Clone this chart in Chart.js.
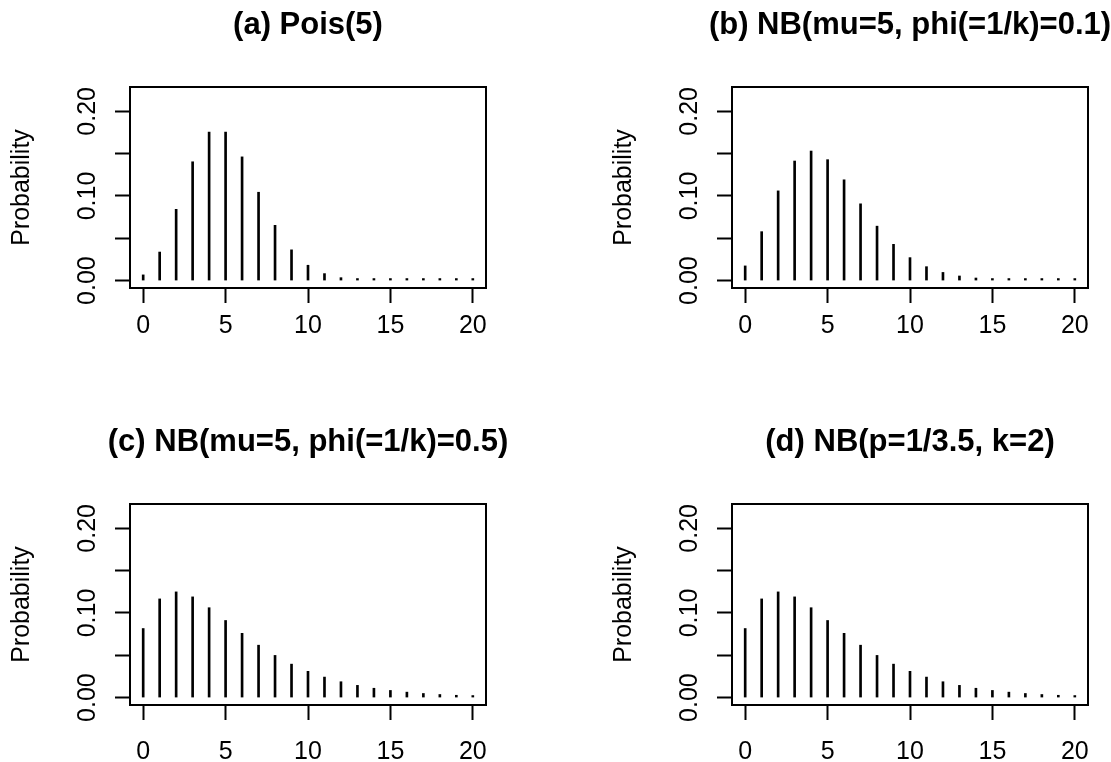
<!DOCTYPE html>
<html>
<head>
<meta charset="utf-8">
<script src="https://cdn.jsdelivr.net/npm/chart.js@4"></script>
<style>
  html, body { margin: 0; padding: 0; background: #fff; }
  body { width: 1111px; height: 762px; position: relative; overflow: hidden; }
  .panel { position: absolute; width: 616px; height: 345px; }
</style>
</head>
<body>
<div class="panel" style="left:0;top:0"><canvas id="pmfA" width="616" height="345"></canvas></div>
<div class="panel" style="left:602px;top:0"><canvas id="pmfB" width="616" height="345"></canvas></div>
<div class="panel" style="left:0;top:417px"><canvas id="pmfC" width="616" height="345"></canvas></div>
<div class="panel" style="left:602px;top:417px"><canvas id="pmfD" width="616" height="345"></canvas></div>
<script>
// counts 0..20 and the probability of each count
const counts = [0, 1, 2, 3, 4, 5, 6, 7, 8, 9, 10, 11, 12, 13, 14, 15, 16, 17, 18, 19, 20];

const probPois5 = [0.0067, 0.0337, 0.0842, 0.1404, 0.1755, 0.1755, 0.1462, 0.1044, 0.0653, 0.0363, 0.0181,
    0.0082, 0.0034, 0.0013, 0.0005, 0.0002, 0.00005, 0.00001, 0.000004, 0.000001, 0.0000003];

const probNbPhi01 = [0.0173, 0.0578, 0.1060, 0.1413, 0.1531, 0.1429, 0.1191, 0.0907, 0.0643, 0.0428, 0.0271,
    0.0164, 0.0096, 0.0054, 0.0030, 0.0016, 0.0008, 0.0004, 0.0002, 0.0001, 0.00005];

const probNbPhi05 = [0.0816, 0.1166, 0.1249, 0.1190, 0.1062, 0.0911, 0.0759, 0.0619, 0.0498, 0.0395, 0.0310,
    0.0242, 0.0187, 0.0144, 0.0110, 0.0084, 0.0064, 0.0048, 0.0036, 0.0027, 0.0020];

const probNbPK = [0.0816, 0.1166, 0.1249, 0.1190, 0.1062, 0.0911, 0.0759, 0.0619, 0.0498, 0.0395, 0.0310,
    0.0242, 0.0187, 0.0144, 0.0110, 0.0084, 0.0064, 0.0048, 0.0036, 0.0027, 0.0020];

const xTicks = [0, 5, 10, 15, 20];
const yTicks = [0, 0.05, 0.10, 0.15, 0.20];
const yTickLabels = ['0.00', '', '0.10', '', '0.20'];

Chart.defaults.font.family = "'Liberation Sans', Arial, Helvetica, sans-serif";
Chart.defaults.color = '#000';

// frame around the plotting region
const plotBox = {
    id: 'plotBox',
    afterDraw(chart) {
        const { ctx, chartArea: a } = chart;
        ctx.save();
        ctx.strokeStyle = '#000';
        ctx.lineWidth = 2;
        ctx.strokeRect(a.left, a.top, a.right - a.left, a.bottom - a.top);
        ctx.restore();
    }
};

const tickMarks = {
    drawOnChartArea: false,
    drawTicks: true,
    tickLength: 15,
    tickWidth: 2,
    tickColor: '#000',
    offset: false
};

const drawPmf = (canvasId, title, probs, xLabelPad) => {
    const ctx = document.getElementById(canvasId).getContext('2d');
    return new Chart(ctx, {
        type: 'bar',
        data: {
            datasets: [{
                data: probs.map((p, i) => ({ x: counts[i], y: p })),
                xAxisID: 'x',
                yAxisID: 'y',
                backgroundColor: '#000',
                borderWidth: 0,
                barThickness: 2,
                minBarLength: 2
            }]
        },
        options: {
            responsive: false,
            animation: false,
            events: [],
            layout: { padding: 0 },
            plugins: {
                legend: { display: false },
                tooltip: { enabled: false },
                title: {
                    display: true,
                    text: title,
                    color: '#000',
                    font: { size: 31, weight: 'bold' },
                    padding: { top: 6.7, bottom: 43.1 }
                }
            },
            scales: {
                x: {
                    type: 'linear',
                    min: -0.8,
                    max: 20.8,
                    offset: false,
                    afterBuildTicks: s => { s.ticks = xTicks.map(v => ({ value: v })); },
                    afterFit: s => { s.height = 57; },
                    grid: tickMarks,
                    border: { display: false },
                    ticks: { font: { size: 25 }, color: '#000', padding: xLabelPad, maxRotation: 0, autoSkip: false }
                },
                y: {
                    type: 'linear',
                    min: -0.0088,
                    max: 0.2288,
                    afterBuildTicks: s => { s.ticks = yTicks.map(v => ({ value: v })); },
                    afterFit: s => { s.width = 130; },
                    grid: tickMarks,
                    border: { display: false },
                    ticks: {
                        font: { size: 25 },
                        color: '#000',
                        padding: 3,
                        minRotation: 90,
                        maxRotation: 90,
                        crossAlign: 'center',
                        autoSkip: false,
                        callback: (v, i) => yTickLabels[i]
                    },
                    title: { display: true, text: 'Probability', font: { size: 25 }, color: '#000', padding: 7 }
                },
                // empty right-hand axis so the title centres over the plot
                yr: {
                    type: 'linear',
                    position: 'right',
                    grid: { display: false },
                    ticks: { display: false },
                    border: { display: false },
                    afterFit: s => { s.width = 130; }
                }
            }
        },
        plugins: [plotBox]
    });
};

drawPmf('pmfA', '(a) Pois(5)', probPois5, 8);
drawPmf('pmfB', '(b) NB(mu=5, phi(=1/k)=0.1)', probNbPhi01, 8);
drawPmf('pmfC', '(c) NB(mu=5, phi(=1/k)=0.5)', probNbPhi05, 17);
drawPmf('pmfD', '(d) NB(p=1/3.5, k=2)', probNbPK, 17);
</script>
</body>
</html>
